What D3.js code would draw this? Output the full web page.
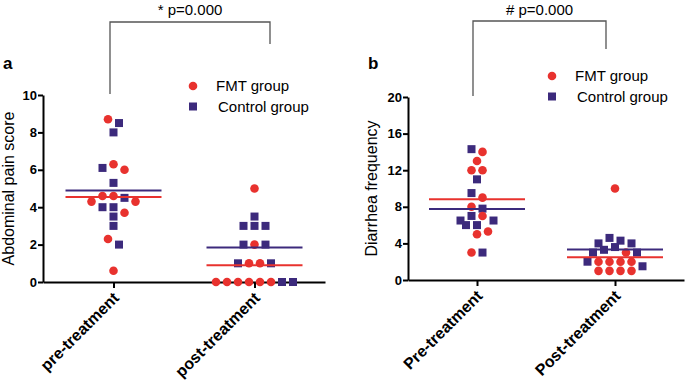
<!DOCTYPE html>
<html>
<head>
<meta charset="utf-8">
<script src="https://cdn.jsdelivr.net/npm/d3@7"></script>
<style>
    body { margin: 0; background: #fff; }
    svg { display: block; }
    text { font-family: "Liberation Sans", Arial, sans-serif; }
</style>
</head>
<body>
<svg id="chart" width="685" height="383"></svg>
<script>
// panel a - abdominal pain score
const aGroups = ["pre-treatment", "post-treatment"]
const aFmtPre = [8.7, 6.3, 6.0, 4.6, 4.6, 4.3, 4.3, 3.7, 2.3, 0.6]
const aFmtPost = [5, 2, 1, 1, 0, 0, 0, 0, 0, 0]
const aCtrlPre = [8.5, 8.0, 6.1, 5.3, 4.5, 4.0, 4.0, 3.5, 3.0, 2.0]
const aCtrlPost = [3.5, 3, 3, 3, 2, 2, 1, 1, 0, 0]
const aTicks = [0, 2, 4, 6, 8, 10]

// panel b - diarrhea frequency
const bGroups = ["Pre-treatment", "Post-treatment"]
const bFmtPre = [14, 13, 12, 12, 9, 8, 7, 5.3, 5, 3]
const bFmtPost = [10, 3, 2, 2, 2, 2, 1, 1, 1, 1]
const bCtrlPre = [14.3, 11, 9.5, 7.8, 7, 6.5, 6.5, 6, 6, 3]
const bCtrlPost = [4.6, 4.3, 4, 4, 3.6, 3.3, 3, 3, 2, 1.5]
const bTicks = [0, 4, 8, 12, 16, 20]

const seriesNames = ["FMT group", "Control group"]
const red = "#e8322e"
const purple = "#3c2a7c"

const panels = [
    {
        letter: "a", groups: aGroups, fmt: [aFmtPre, aFmtPost], ctrl: [aCtrlPre, aCtrlPost],
        ticks: aTicks, title: "Abdominal pain score",
        x0: 43, x1: 325, yTop: 95, yBot: 282, titleX: 14, letterX: 3,
        legend: [193, 86],
        bracket: { l: 110, r: 270, top: 22, lb: 94, rb: 44, label: "* p=0.000" }
    },
    {
        letter: "b", groups: bGroups, fmt: [bFmtPre, bFmtPost], ctrl: [bCtrlPre, bCtrlPost],
        ticks: bTicks, title: "Diarrhea frequency",
        x0: 408, x1: 684, yTop: 97, yBot: 280, titleX: 377, letterX: 368,
        legend: [552, 76],
        bracket: { l: 473, r: 606, top: 21, lb: 96, rb: 49, label: "# p=0.000" }
    }
]

const svg = d3.select("#chart")
const step = 11   // horizontal spacing of dots in a row
const rowGap = 9  // px, points closer than this share a row
const font = '"Liberation Sans", Arial, sans-serif'

function symbol(sel, kind, color) {
    if (kind === "fmt") {
        sel.append("circle").attr("r", 4.3).attr("fill", color)
    } else {
        sel.append("rect").attr("x", -4).attr("y", -4)
            .attr("width", 8).attr("height", 8).attr("fill", color)
    }
}

panels.forEach(p => {
    const x = d3.scalePoint().domain(p.groups).range([p.x0, p.x1]).padding(0.5)
    const y = d3.scaleLinear().domain([0, d3.max(p.ticks)]).range([p.yBot, p.yTop])
    const g = svg.append("g")

    // axes
    const yAxis = g.append("g")
        .attr("transform", `translate(${p.x0},0)`)
        .call(d3.axisLeft(y).tickValues(p.ticks).tickSize(5).tickSizeOuter(0).tickPadding(1))
    yAxis.selectAll("text").attr("font-size", 13).attr("font-weight", "bold").attr("fill", "#000")
        .style("font-family", font)

    const xAxis = g.append("g")
        .attr("transform", `translate(0,${p.yBot})`)
        .call(d3.axisBottom(x).tickSize(6).tickSizeOuter(0))
    xAxis.selectAll("text")
        .attr("x", null).attr("y", null).attr("dy", null)
        .attr("text-anchor", "end")
        .attr("transform", "translate(6,17) rotate(-45)")
        .attr("font-size", 16).attr("font-weight", "bold").attr("fill", "#000")
        .style("font-family", font)

    g.selectAll(".domain, .tick line").attr("stroke", "#000").attr("stroke-width", 2)

    // axis title
    g.append("text")
        .attr("transform", `translate(${p.titleX},${(p.yTop + p.yBot) / 2}) rotate(-90)`)
        .attr("text-anchor", "middle")
        .attr("font-size", 16)
        .text(p.title)

    // panel letter
    g.append("text")
        .attr("x", p.letterX).attr("y", 69)
        .attr("font-size", 17).attr("font-weight", "bold")
        .text(p.letter)

    // points, arranged in centred rows
    p.groups.forEach((grp, gi) => {
        const pts = []
        const n = Math.max(p.fmt[gi].length, p.ctrl[gi].length)
        for (let i = 0; i < n; i++) {
            if (i < p.fmt[gi].length) pts.push({ v: p.fmt[gi][i], kind: "fmt" })
            if (i < p.ctrl[gi].length) pts.push({ v: p.ctrl[gi][i], kind: "ctrl" })
        }
        pts.sort((a, b) => b.v - a.v)

        const rows = []
        pts.forEach(d => {
            const last = rows[rows.length - 1]
            if (last && y(d.v) - y(last[0].v) < rowGap) last.push(d)
            else rows.push([d])
        })
        rows.forEach(row => {
            const offs = row.map((d, i) => (i - (row.length - 1) / 2) * step)
            offs.sort((a, b) => Math.abs(a) - Math.abs(b) || a - b)
            row.forEach((d, i) => { d.dx = offs[i] })
        })

        const ctrlPts = pts.filter(d => d.kind === "ctrl")
        const fmtPts = pts.filter(d => d.kind === "fmt")
        ;[[ctrlPts, purple], [fmtPts, red]].forEach(([arr, col]) => {
            g.selectAll(null).data(arr).enter()
                .append("g")
                .attr("transform", d => `translate(${x(grp) + d.dx},${y(d.v)})`)
                .each(function (d) { symbol(d3.select(this), d.kind, col) })
        })

        // mean lines
        const means = [[d3.mean(p.ctrl[gi]), purple], [d3.mean(p.fmt[gi]), red]]
        means.forEach(([m, col]) => {
            g.append("line")
                .attr("x1", x(grp) - 48).attr("x2", x(grp) + 48)
                .attr("y1", y(m)).attr("y2", y(m))
                .attr("stroke", col).attr("stroke-width", 2)
        })
    })

    // legend
    const [lx, ly] = p.legend
    seriesNames.forEach((name, i) => {
        const row = g.append("g").attr("transform", `translate(${lx},${ly + i * 20.5})`)
        symbol(row, i === 0 ? "fmt" : "ctrl", i === 0 ? red : purple)
        row.append("text")
            .attr("x", i === 0 ? 23 : 25).attr("y", 5)
            .attr("font-size", 15)
            .text(name)
    })

    // significance bracket
    const b = p.bracket
    g.append("path")
        .attr("d", `M${b.l},${b.lb}V${b.top}H${b.r}V${b.rb}`)
        .attr("fill", "none").attr("stroke", "#555").attr("stroke-width", 1.3)
    g.append("text")
        .attr("x", (b.l + b.r) / 2).attr("y", 15)
        .attr("text-anchor", "middle")
        .attr("font-size", 15)
        .text(b.label)
})
</script>
</body>
</html>
